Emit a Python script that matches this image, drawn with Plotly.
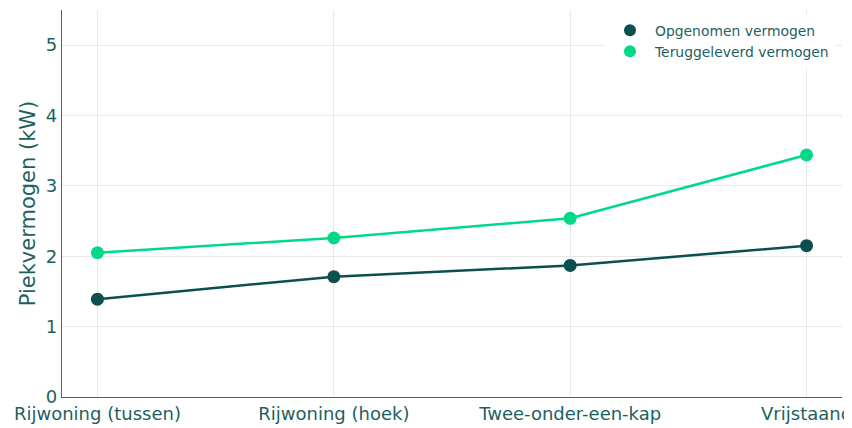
import plotly.graph_objects as go

woningtypes = ["Rijwoning (tussen)", "Rijwoning (hoek)", "Twee-onder-een-kap", "Vrijstaand"]
opgenomen = [1.39, 1.71, 1.87, 2.15]
teruggeleverd = [2.05, 2.26, 2.54, 3.44]

donker = "#0b4f4f"
groen = "#00d987"
tekst = "#1e5f5f"

fig = go.Figure()
# lijnen zonder legenda, markers met legenda (legenda toont alleen bolletjes)
for naam, waarden, kleur in [("Opgenomen vermogen", opgenomen, donker),
                             ("Teruggeleverd vermogen", teruggeleverd, groen)]:
    fig.add_trace(go.Scatter(x=woningtypes, y=waarden, mode="lines", showlegend=False,
                             line=dict(color=kleur, width=2.5), hoverinfo="skip"))
    fig.add_trace(go.Scatter(x=woningtypes, y=waarden, name=naam, mode="markers",
                             marker=dict(size=13, color=kleur)))

# pagina heeft 8px body-marge, dus figuur iets kleiner
fig.update_layout(
    width=844, height=420,
    margin=dict(l=54, r=10, t=2, b=31),
    plot_bgcolor="white", paper_bgcolor="white",
    font=dict(family="DejaVu Sans", color=tekst),
    showlegend=True,
    legend=dict(x=0.991, xanchor="right", y=0.988, yanchor="top",
                bgcolor="white", font=dict(size=13.9, color=tekst),
                itemsizing="constant", itemwidth=40, tracegroupgap=0),
)
fig.update_xaxes(range=[-0.15, 3.15], showgrid=True, gridcolor="#e8e8e8",
                 showline=True, linecolor="#2e6e6e", linewidth=1.3, automargin=False,
                 tickfont=dict(size=18, color=tekst), ticks="", ticklabelstandoff=0)
fig.update_yaxes(range=[0, 5.5], dtick=1, showgrid=True, gridcolor="#e8e8e8",
                 showline=True, linecolor="#2e6e6e", linewidth=1.3, zeroline=False,
                 automargin=False, tickfont=dict(size=18, color=tekst), ticks="",
                 title=dict(text="Piekvermogen (kW)", font=dict(size=21, color=tekst), standoff=4))

fig.write_html("out.html")
